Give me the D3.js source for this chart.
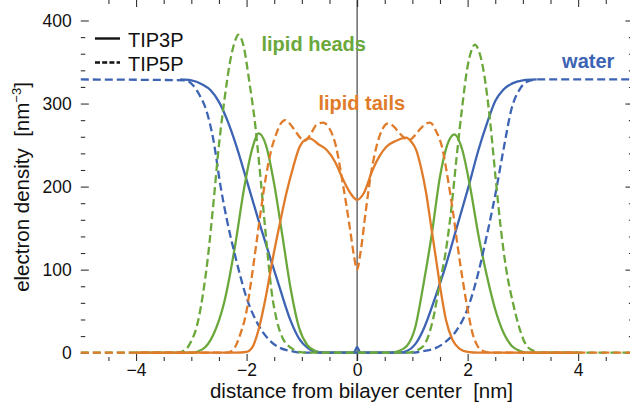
<!DOCTYPE html>
<html>
<head>
<meta charset="utf-8">
<script src="https://cdn.jsdelivr.net/npm/d3@7"></script>
<style>
  body { margin: 0; background: #fff; }
  text { font-family: "Liberation Sans", Arial, Helvetica, sans-serif; }
</style>
</head>
<body>
<div id="chart"></div>
<script>
// ---- data ----
// water, TIP3P (solid) and TIP5P (dashed)
var waterTip3pX = [-3.2, -3.0, -2.8, -2.65, -2.5, -2.35, -2.2, -2.0, -1.8, -1.6, -1.4, -1.2, -1.05, -0.9, -0.75, -0.5, -0.06, 0, 0.06, 0.5, 0.75, 0.9, 1.05, 1.2, 1.4, 1.6, 1.8, 2.0, 2.2, 2.35, 2.5, 2.65, 2.8, 3.0, 3.25];
var waterTip3pY = [329, 328, 323, 316, 302, 280, 252, 208, 163, 120, 78, 38, 17, 6, 1, 0, 0, 7, 0, 0, 0, 2, 10, 28, 64, 104, 150, 196, 245, 276, 303, 317, 324, 328, 329];
var waterTip5pX = [-5, -3.1, -2.97, -2.85, -2.73, -2.6, -2.47, -2.35, -2.2, -2.0, -1.8, -1.6, -1.4, -1.2, -1.0, 1.0, 1.2, 1.4, 1.6, 1.8, 2.0, 2.2, 2.35, 2.5, 2.65, 2.8, 2.95, 3.1, 3.25, 5];
var waterTip5pY = [329, 328, 322, 310, 292, 256, 200, 158, 115, 66, 35, 16, 6, 2, 0, 0, 2, 5, 13, 27, 53, 98, 142, 190, 245, 295, 318, 327, 329, 329];

// lipid heads
var headsTip3pX = [-4, -3.0, -2.8, -2.6, -2.4, -2.2, -2.05, -1.9, -1.78, -1.65, -1.5, -1.35, -1.2, -1.05, -0.9, -0.75, -0.6, 0.6, 0.75, 0.9, 1.05, 1.2, 1.35, 1.5, 1.63, 1.76, 1.9, 2.05, 2.2, 2.35, 2.5, 2.65, 2.8, 2.95, 3.1, 4];
var headsTip3pY = [0, 0, 4, 22, 62, 132, 196, 245, 264, 250, 203, 140, 76, 30, 9, 2, 0, 0, 2, 8, 30, 82, 142, 212, 250, 263, 245, 198, 140, 92, 52, 24, 8, 2, 0, 0];
var headsTip5pX = [-5, -3.25, -3.1, -3.0, -2.9, -2.8, -2.7, -2.6, -2.5, -2.4, -2.3, -2.2, -2.15, -2.05, -1.95, -1.85, -1.75, -1.65, -1.55, -1.45, -1.35, -1.2, -1.05, -0.9, 0.9, 1.05, 1.2, 1.37, 1.5, 1.6, 1.7, 1.8, 1.9, 2.0, 2.07, 2.13, 2.2, 2.3, 2.4, 2.5, 2.6, 2.7, 2.82, 2.95, 3.06, 3.2, 3.35, 5];
var headsTip5pY = [0, 0, 4, 14, 32, 66, 115, 180, 250, 305, 350, 377, 383, 368, 326, 278, 212, 140, 75, 38, 18, 6, 1, 0, 0, 2, 8, 39, 85, 120, 170, 235, 295, 345, 364, 371, 364, 335, 283, 215, 150, 100, 60, 27, 9, 2, 0, 0];

// lipid tails
var tailsTip3pX = [-4, -2.2, -2.0, -1.9, -1.77, -1.65, -1.53, -1.4, -1.28, -1.15, -1.04, -0.95, -0.86, -0.7, -0.55, -0.4, -0.25, -0.12, 0, 0.12, 0.28, 0.4, 0.53, 0.7, 0.89, 0.98, 1.07, 1.16, 1.25, 1.34, 1.43, 1.52, 1.61, 1.73, 1.85, 2.0, 2.2, 4];
var tailsTip3pY = [0, 0, 1, 6, 31, 68, 112, 155, 192, 225, 248, 256, 258, 251, 244, 230, 208, 192, 184, 192, 220, 236, 248, 255, 259, 254, 244, 222, 192, 152, 112, 72, 39, 15, 5, 1, 0, 0];
var tailsTip5pX = [-5, -2.35, -2.25, -2.1, -2.01, -1.92, -1.83, -1.74, -1.65, -1.55, -1.46, -1.38, -1.3, -1.22, -1.12, -1.03, -0.95, -0.85, -0.74, -0.62, -0.5, -0.38, -0.29, -0.2, -0.12, -0.06, 0, 0.06, 0.16, 0.25, 0.35, 0.45, 0.56, 0.67, 0.77, 0.87, 0.95, 1.05, 1.15, 1.25, 1.32, 1.42, 1.55, 1.64, 1.73, 1.82, 1.91, 2.0, 2.09, 2.18, 2.28, 2.4, 5];
var tailsTip5pY = [0, 0, 3, 25, 47, 85, 128, 172, 212, 245, 264, 276, 280, 276, 267, 259, 255, 262, 274, 277, 270, 248, 216, 180, 145, 118, 100, 120, 172, 215, 248, 268, 276, 272, 264, 258, 256, 262, 270, 276, 277, 268, 244, 210, 172, 128, 88, 52, 23, 8, 2, 0, 0];

// ticks
var xMajorTicks = [-4, -2, 0, 2, 4];
var xMinorTicks = [-4.5, -3.5, -3, -2.5, -1.5, -1, -0.5, 0.5, 1, 1.5, 2.5, 3, 3.5, 4.5];
var yMajorTicks = [0, 100, 200, 300, 400];
var yMinorTicks = [20, 40, 60, 80, 120, 140, 160, 180, 220, 240, 260, 280, 320, 340, 360, 380];

var blue = "#3d63b3";
var green = "#6ba83c";
var orange = "#e07b2a";

// svg container
var svgWidth = 630;
var svgHeight = 407;

var svg = d3.select("#chart")
    .append("svg")
    .attr("width", svgWidth)
    .attr("height", svgHeight);

// scales (right edge of the frame falls just outside the picture)
var xScale = d3.scaleLinear()
    .domain([-5, 5])
    .range([80.8, 633.4]);

var yScale = d3.scaleLinear()
    .domain([-10, 400])
    .range([361, 20.5]);

var left = xScale(-5), right = xScale(5), top = yScale(400), bottom = yScale(-10);
var tickFont = 17.5;

// helper: axis with inward ticks, domain path removed
function drawAxis(axis, tx, ty, labels) {
    var g = svg.append("g")
        .attr("transform", `translate(${tx}, ${ty})`)
        .call(axis)
        .attr("font-size", tickFont)
        .attr("font-family", "Liberation Sans, Arial, sans-serif");
    g.select(".domain").remove();
    g.selectAll(".tick line").attr("stroke", "#333").attr("stroke-width", 1.1);
    g.selectAll(".tick text").attr("fill", "#111");
    if (!labels) g.selectAll(".tick text").remove();
    return g;
}

// bottom / top
drawAxis(d3.axisBottom(xScale).tickValues(xMajorTicks).tickSizeInner(-7).tickSizeOuter(0).tickPadding(3), 0, bottom, true);
drawAxis(d3.axisBottom(xScale).tickValues(xMinorTicks).tickSizeInner(-4).tickSizeOuter(0), 0, bottom, false);
drawAxis(d3.axisTop(xScale).tickValues(xMajorTicks).tickSizeInner(-7).tickSizeOuter(0), 0, top, false);
drawAxis(d3.axisTop(xScale).tickValues(xMinorTicks).tickSizeInner(-4).tickSizeOuter(0), 0, top, false);

// left / right
drawAxis(d3.axisLeft(yScale).tickValues(yMajorTicks).tickSizeInner(-8).tickSizeOuter(0).tickPadding(9), left, 0, true);
drawAxis(d3.axisLeft(yScale).tickValues(yMinorTicks).tickSizeInner(-4.5).tickSizeOuter(0), left, 0, false);
drawAxis(d3.axisRight(yScale).tickValues(yMajorTicks).tickSizeInner(-8).tickSizeOuter(0), right, 0, false);
drawAxis(d3.axisRight(yScale).tickValues(yMinorTicks).tickSizeInner(-4.5).tickSizeOuter(0), right, 0, false);

// frame
svg.append("rect")
    .attr("x", left)
    .attr("y", top)
    .attr("width", right - left)
    .attr("height", bottom - top)
    .attr("fill", "none")
    .attr("stroke", "#333")
    .attr("stroke-width", 1.4);

// bilayer center line
svg.append("line")
    .attr("x1", xScale(0))
    .attr("x2", xScale(0))
    .attr("y1", top)
    .attr("y2", bottom)
    .attr("stroke", "#222")
    .attr("stroke-width", 1);

// curves
var series = [
    { xs: waterTip3pX, ys: waterTip3pY, color: blue, dashed: false },
    { xs: headsTip3pX, ys: headsTip3pY, color: green, dashed: false },
    { xs: waterTip5pX, ys: waterTip5pY, color: blue, dashed: true },
    { xs: headsTip5pX, ys: headsTip5pY, color: green, dashed: true },
    { xs: tailsTip3pX, ys: tailsTip3pY, color: orange, dashed: false },
    { xs: tailsTip5pX, ys: tailsTip5pY, color: orange, dashed: true }
];

var line = d3.line()
    .x(d => xScale(d[0]))
    .y(d => yScale(d[1]))
    .curve(d3.curveMonotoneX);

svg.append("g").selectAll("path")
    .data(series)
    .enter()
    .append("path")
    .attr("d", d => line(d.xs.map((x, i) => [x, d.ys[i]])))
    .attr("fill", "none")
    .attr("stroke", d => d.color)
    .attr("stroke-width", 2.3)
    .attr("stroke-dasharray", d => d.dashed ? "8,4" : null);

// curve labels
var labels = [
    { text: "lipid heads", x: -1.73, y: 363, color: green },
    { text: "water", x: 3.71, y: 343, color: blue },
    { text: "lipid tails", x: -0.7, y: 292, color: orange }
];

svg.selectAll(".curveLabel")
    .data(labels)
    .enter()
    .append("text")
    .attr("class", "curveLabel")
    .attr("x", d => xScale(d.x))
    .attr("y", d => yScale(d.y))
    .attr("fill", d => d.color)
    .attr("font-size", 20)
    .attr("font-weight", "bold")
    .text(d => d.text);

// legend
var legend = [
    { text: "TIP3P", dashed: false, y: 38.5 },
    { text: "TIP5P", dashed: true, y: 62.5 }
];

legend.forEach(function(d) {
    svg.append("line")
        .attr("x1", 95)
        .attr("x2", 120)
        .attr("y1", d.y)
        .attr("y2", d.y)
        .attr("stroke", "#111")
        .attr("stroke-width", 2.4)
        .attr("stroke-dasharray", d.dashed ? "5,2.2" : null);
    svg.append("text")
        .attr("x", 128)
        .attr("y", d.y + 8)
        .attr("font-size", 20)
        .attr("fill", "#111")
        .text(d.text);
});

// axis titles
svg.append("text")
    .attr("x", 361.5)
    .attr("y", 397.5)
    .attr("text-anchor", "middle")
    .attr("font-size", 20.5)
    .attr("fill", "#111")
    .style("white-space", "pre")
    .text("distance from bilayer center  [nm]");

var yTitle = svg.append("text")
    .attr("transform", "translate(28.5, 187) rotate(-90)")
    .attr("text-anchor", "middle")
    .attr("font-size", 20.5)
    .attr("fill", "#111")
    .style("white-space", "pre");
yTitle.append("tspan").text("electron density  [nm");
yTitle.append("tspan").attr("dy", -8).attr("font-size", 13).text("\u22123");
yTitle.append("tspan").attr("dy", 8).text("]");
</script>
</body>
</html>
